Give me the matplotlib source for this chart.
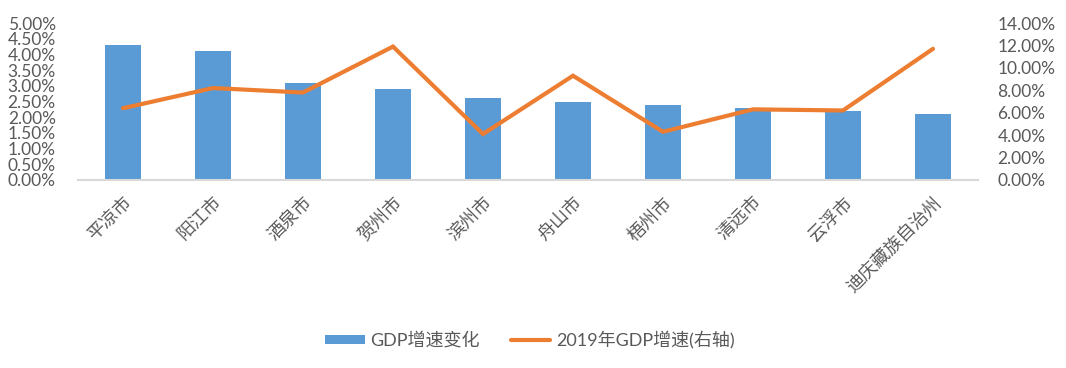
import matplotlib
matplotlib.use("Agg")
import matplotlib.pyplot as plt
from matplotlib.ticker import PercentFormatter, MultipleLocator
import numpy as np

plt.rcParams['font.family'] = ['Lato', 'Noto Sans CJK SC', 'DejaVu Sans']

cities = ["平凉市", "阳江市", "酒泉市", "贺州市", "滨州市", "舟山市", "梧州市", "清远市", "云浮市", "迪庆藏族自治州"]
gdp_change = [4.30, 4.11, 3.09, 2.90, 2.61, 2.48, 2.39, 2.29, 2.20, 2.10]
gdp_2019 = [6.4, 8.2, 7.8, 11.9, 4.1, 9.3, 4.3, 6.3, 6.2, 11.7]

bar_color = "#5B9BD5"
line_color = "#ED7D31"
text_color = "#595959"

fig = plt.figure(figsize=(10.66, 3.68), dpi=100)
ax = fig.add_axes([78/1066, 1-180/368, 900/1066, 157/368])
x = np.arange(len(cities))
ax.bar(x, gdp_change, width=0.4, color=bar_color, label="GDP增速变化", zorder=2)
ax.set_xlim(-0.5, len(cities)-0.5)
ax.set_ylim(0, 5)
ax.yaxis.set_major_locator(MultipleLocator(0.5))
ax.yaxis.set_major_formatter(PercentFormatter(decimals=2))
ax.set_xticks(x)
ax.set_xticklabels(cities, rotation=45, ha='right', rotation_mode='anchor',
                   fontsize=13, color=text_color)
ax.tick_params(axis='x', length=0, pad=10)
ax.tick_params(axis='y', length=0, pad=16, labelsize=12.5, labelcolor=text_color)
for s in ['top', 'right', 'left']:
    ax.spines[s].set_visible(False)
ax.spines['bottom'].set_color('#D9D9D9')
ax.spines['bottom'].set_linewidth(1.5)

ax2 = ax.twinx()
ax2.plot(x, gdp_2019, color=line_color, linewidth=3.0, label="2019年GDP增速(右轴)",
         solid_capstyle='round', solid_joinstyle='miter', zorder=3)
ax2.set_ylim(0, 14)
ax2.yaxis.set_major_locator(MultipleLocator(2))
ax2.yaxis.set_major_formatter(PercentFormatter(decimals=2))
ax2.tick_params(axis='y', length=0, pad=14, labelsize=12.5, labelcolor=text_color)
for s in ['top', 'right', 'left', 'bottom']:
    ax2.spines[s].set_visible(False)

h1, l1 = ax.get_legend_handles_labels()
h2, l2 = ax2.get_legend_handles_labels()
leg = fig.legend(h1 + h2, l1 + l2, loc='center', bbox_to_anchor=(0.497, 1-340/368),
                 ncol=2, frameon=False, fontsize=13, handlelength=2.2,
                 handleheight=0.45, columnspacing=1.7, handletextpad=0.3)
for t in leg.get_texts():
    t.set_color(text_color)

fig.savefig("out.png", dpi=100)
